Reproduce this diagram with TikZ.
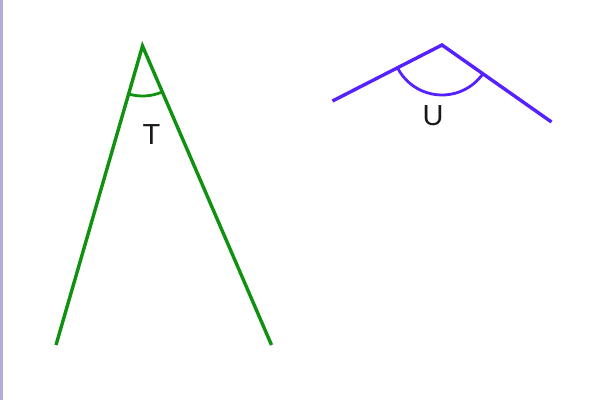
\documentclass[tikz,border=0pt]{standalone}
\usepackage{fontspec}
\setmainfont{Liberation Sans}
\definecolor{angG}{RGB}{17,145,17}
\definecolor{angP}{RGB}{85,34,255}
\definecolor{edgeL}{RGB}{180,170,220}
\begin{document}
\begin{tikzpicture}[x=1pt,y=1pt,
  rayG/.style={draw=angG,line width=3.4pt},
  rayP/.style={draw=angP,line width=3.4pt},
  lbl/.style={font=\fontsize{29}{31}\selectfont,text=black!90,inner sep=0pt}]
\useasboundingbox (0,0) rectangle (590,400);
\fill[white] (0,0) rectangle (590,400);
\fill[edgeL] (0,0) rectangle (2.5,400);
% green angle
\coordinate (gA) at (142.5,354);
\coordinate (gL) at (56,55);
\coordinate (gR) at (271.5,55);
\draw[rayG] (gL) -- (gA) -- (gR);
\draw[draw=angG,line width=2.8pt] ([shift={(253.9:50)}]gA) arc[start angle=253.9,end angle=293.3,radius=50];
\node[lbl] (T) at (151.5,265) {T};
% purple angle
\coordinate (pA) at (442,355);
\coordinate (pL) at (332.5,299);
\coordinate (pR) at (551.5,278);
\draw[rayP] (pL) -- (pA) -- (pR);
\draw[draw=angP,line width=2.8pt] ([shift={(207.1:50)}]pA) arc[start angle=207.1,end angle=324.9,radius=50];
\node[lbl] (U) at (433,284) {U};
\end{tikzpicture}
\end{document}
